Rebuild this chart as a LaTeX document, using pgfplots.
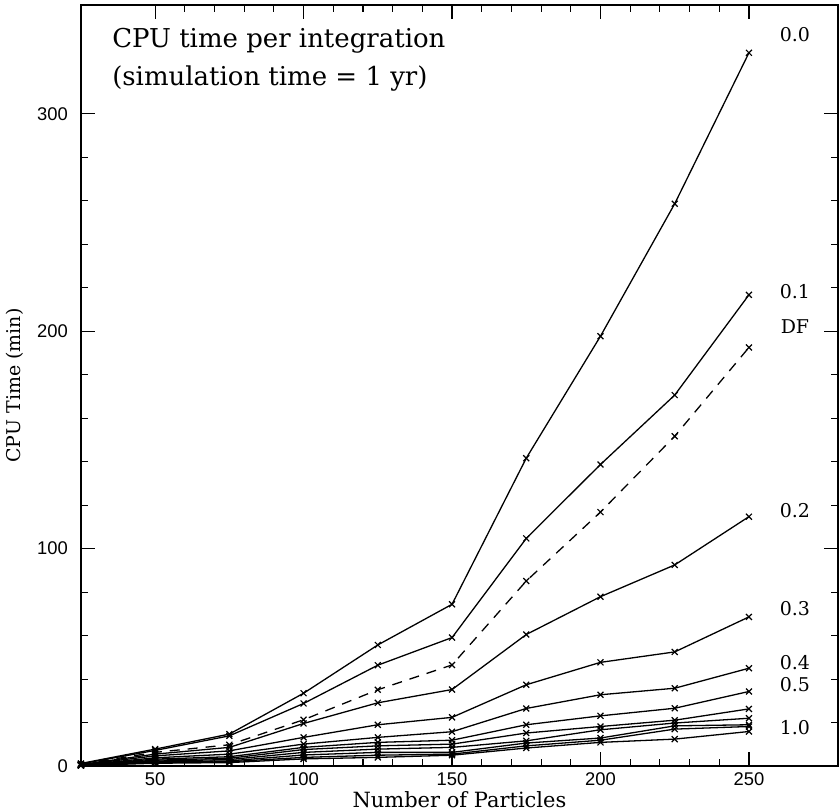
\documentclass[border=0pt]{standalone}
\usepackage{fontspec}
\setmainfont{DejaVu Serif}
\setsansfont{Liberation Sans}
\usepackage{pgfplots}
\pgfplotsset{compat=1.18}
\pgfplotsset{cur/.style={black, solid, line width=0.65pt, mark=x, mark size=2.1pt, mark options={solid, line width=0.6pt}}}
\begin{document}
\begin{tikzpicture}
\begin{axis}[
  scale only axis,
  width=379pt, height=381pt,
  xmin=25, xmax=280, ymin=0, ymax=350,
  xtick={50,100,150,200,250},
  ytick={0,100,200,300},
  minor x tick num=4,
  minor y tick num=4,
  tick align=inside,
  major tick length=7pt,
  minor tick length=3.5pt,
  axis line style={line width=0.8pt},
  every tick/.style={black, line width=0.6pt},
  /pgf/number format/assume math mode=true,
  ticklabel style={font=\fontsize{9.2}{10}\sffamily},
  yticklabel style={xshift=-3pt},
  xlabel={Number of Particles},
  ylabel={CPU Time (min)},
  xlabel style={font=\fontsize{10.5}{12}\selectfont, yshift=4pt},
  ylabel style={font=\fontsize{9.5}{11}\selectfont},
  clip=false,
]
% 0.0
\addplot[cur] coordinates {(25,1.2) (50,7.8) (75,14.7) (100,33.5) (125,55.7) (150,74.4) (175,141.6) (200,197.7) (225,258.6) (250,328)};
% 0.1
\addplot[cur] coordinates {(25,1.0) (50,7.2) (75,13.9) (100,28.8) (125,46.4) (150,59.1) (175,104.7) (200,138.7) (225,170.6) (250,216.7)};
% DF
\addplot[cur, dash pattern=on 5pt off 4pt] coordinates {(25,0.8) (50,6.3) (75,9.8) (100,21.3) (125,35.1) (150,46.5) (175,85.1) (200,116.8) (225,151.7) (250,192.5)};
% 0.2
\addplot[cur] coordinates {(25,0.7) (50,5.5) (75,8.6) (100,19.6) (125,29.1) (150,35.2) (175,60.5) (200,77.9) (225,92.5) (250,114.7)};
% 0.3
\addplot[cur] coordinates {(25,0.6) (50,4.7) (75,7.0) (100,13.2) (125,19.0) (150,22.4) (175,37.4) (200,47.7) (225,52.5) (250,68.6)};
% 0.4
\addplot[cur] coordinates {(25,0.5) (50,3.8) (75,5.5) (100,10.1) (125,13.2) (150,15.8) (175,26.5) (200,32.8) (225,35.8) (250,45.0)};
% 0.5
\addplot[cur] coordinates {(25,0.45) (50,3.2) (75,4.3) (100,8.6) (125,10.9) (150,11.9) (175,19.0) (200,23.1) (225,26.6) (250,34.3)};
% 0.6
\addplot[cur] coordinates {(25,0.4) (50,2.7) (75,3.6) (100,7.6) (125,9.3) (150,10.1) (175,15.2) (200,18.2) (225,21.1) (250,26.3)};
% 0.7
\addplot[cur] coordinates {(25,0.35) (50,2.3) (75,3.0) (100,6.3) (125,7.8) (150,8.6) (175,11.6) (200,16.7) (225,19.8) (250,22.0)};
% 0.8
\addplot[cur] coordinates {(25,0.3) (50,1.9) (75,2.4) (100,5.1) (125,6.3) (150,6.3) (175,10.6) (200,12.9) (225,18.5) (250,19.0)};
% 0.9
\addplot[cur] coordinates {(25,0.3) (50,1.6) (75,2.0) (100,4.0) (125,5.0) (150,5.5) (175,9.3) (200,11.9) (225,17.0) (250,18.2)};
% 1.0
\addplot[cur] coordinates {(25,0.25) (50,1.3) (75,1.6) (100,3.3) (125,4.0) (150,5.0) (175,8.3) (200,10.9) (225,12.4) (250,15.9)};

\node[anchor=north west, align=left, inner sep=0pt, font=\fontsize{13}{19}\selectfont]
  at ([xshift=15.5pt, yshift=-11.5pt]rel axis cs:0,1)
  {CPU time per integration\\(simulation time = 1 yr)};

\begin{scope}[every node/.style={font=\fontsize{9.5}{11}\selectfont}]
\node at (axis cs:265.5,336.2) {0.0};
\node at (axis cs:265.5,218.2) {0.1};
\node at (axis cs:265.5,202.1) {DF};
\node at (axis cs:265.5,117.6) {0.2};
\node at (axis cs:265.5,72.5) {0.3};
\node at (axis cs:265.5,47.5) {0.4};
\node at (axis cs:265.5,37.7) {0.5};
\node at (axis cs:265.5,17.8) {1.0};
\end{scope}
\end{axis}
\pgfresetboundingbox
\path ([shift={(-40.5pt,-22.5pt)}]current axis.south west) rectangle ([shift={(0.5pt,2.5pt)}]current axis.north east);
\end{tikzpicture}
\end{document}
